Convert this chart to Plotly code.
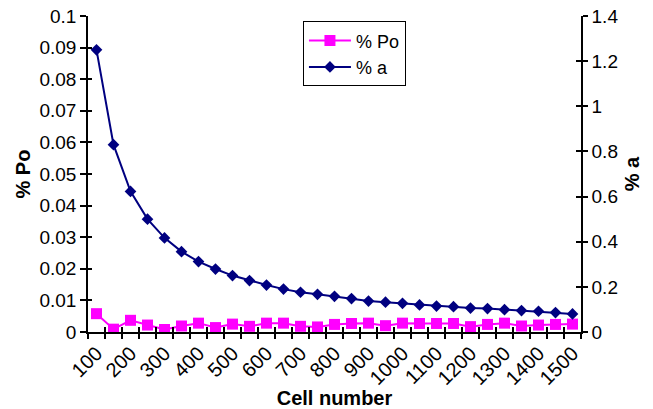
import plotly.graph_objects as go

cells = [100, 150, 200, 250, 300, 350, 400, 450, 500, 550, 600, 650, 700, 750, 800,
         850, 900, 950, 1000, 1050, 1100, 1150, 1200, 1250, 1300, 1350, 1400, 1450, 1500]
pct_po = [0.0058, 0.0009, 0.0037, 0.0022, 0.0008, 0.0019, 0.0028, 0.0014, 0.0025, 0.0018,
          0.0028, 0.0028, 0.0018, 0.0016, 0.0024, 0.0027, 0.0028, 0.0020, 0.0028, 0.0027,
          0.0027, 0.0027, 0.0017, 0.0024, 0.0028, 0.0019, 0.0022, 0.0024, 0.0025]
pct_a = [1.25, 0.83, 0.623, 0.50, 0.417, 0.356, 0.312, 0.279, 0.25, 0.228,
         0.208, 0.19, 0.176, 0.167, 0.158, 0.148, 0.137, 0.132, 0.127, 0.12,
         0.115, 0.112, 0.106, 0.104, 0.099, 0.095, 0.092, 0.086, 0.08]

x_labels = [100, 200, 300, 400, 500, 600, 700, 800, 900, 1000, 1100, 1200, 1300, 1400, 1500]
left_ticks = [0, 0.01, 0.02, 0.03, 0.04, 0.05, 0.06, 0.07, 0.08, 0.09, 0.1]
left_text = ["0", "0.01", "0.02", "0.03", "0.04", "0.05", "0.06", "0.07", "0.08", "0.09", "0.1"]
right_ticks = [0, 0.2, 0.4, 0.6, 0.8, 1.0, 1.2, 1.4]
right_text = ["0", "0.2", "0.4", "0.6", "0.8", "1", "1.2", "1.4"]

FONT = "Liberation Sans, Arial, sans-serif"
XR = [75, 1525]
YR = [0, 0.1]
Y2R = [0, 1.4]

fig = go.Figure()
fig.add_trace(go.Scatter(
    x=cells, y=pct_po, name="% Po", mode="lines+markers",
    line=dict(color="#FF00FF", width=2),
    marker=dict(symbol="square", size=11, color="#FF00FF"),
    xaxis="x", yaxis="y"))
fig.add_trace(go.Scatter(
    x=cells, y=pct_a, name="% a", mode="lines+markers",
    line=dict(color="#000080", width=2),
    marker=dict(symbol="diamond", size=9, color="#000080"),
    xaxis="x", yaxis="y2"))
# invisible helpers so the overlay axes (inside half of the crossing ticks) are drawn
fig.add_trace(go.Scatter(x=cells, y=pct_po, mode="markers", opacity=0, showlegend=False,
                         hoverinfo="skip", xaxis="x2", yaxis="y3"))
fig.add_trace(go.Scatter(x=cells, y=pct_a, mode="markers", opacity=0, showlegend=False,
                         hoverinfo="skip", xaxis="x2", yaxis="y4"))

ytickfont = dict(family=FONT, size=19, color="black")
xtickfont = dict(family=FONT, size=20, color="black")
fig.update_layout(
    width=653, height=409,
    margin=dict(l=88, r=72, t=16, b=77, autoexpand=False),
    paper_bgcolor="white", plot_bgcolor="white",
    font=dict(family=FONT, size=18, color="black"),
    showlegend=True,
    legend=dict(x=0.436, y=0.983, xanchor="left", yanchor="top",
                bordercolor="black", borderwidth=1, bgcolor="white",
                font=dict(family=FONT, size=18), itemwidth=42),
    xaxis=dict(range=XR, showgrid=False, zeroline=False, showline=True, automargin=False,
               linecolor="black", linewidth=1.5, tickmode="array", tickvals=x_labels,
               ticktext=[str(v) for v in x_labels], ticks="", tickangle=-45,
               tickfont=xtickfont,
               minor=dict(tick0=125, dtick=50, ticks="outside", ticklen=5,
                          tickcolor="black", tickwidth=1.5, showgrid=False),
               title=dict(text="<b>Cell number</b>", font=dict(family=FONT, size=20),
                          standoff=4)),
    xaxis2=dict(range=XR, overlaying="x", anchor="y", side="bottom", showgrid=False,
                zeroline=False, showline=False, automargin=False, tick0=125, dtick=50,
                ticks="inside", ticklen=5, tickcolor="black", tickwidth=1.5,
                showticklabels=False),
    yaxis=dict(range=YR, showgrid=False, zeroline=False, showline=True, automargin=True,
               linecolor="black", linewidth=1.5, tickmode="array", tickvals=left_ticks,
               ticktext=left_text, ticks="outside", ticklen=6, tickcolor="black",
               tickwidth=1.5, tickfont=ytickfont,
               title=dict(text="<b>% Po</b>", font=dict(family=FONT, size=20), standoff=3)),
    yaxis2=dict(range=Y2R, overlaying="y", side="right", anchor="x", showgrid=False,
                zeroline=False, showline=True, automargin=True, linecolor="black",
                linewidth=1.5, tickmode="array", tickvals=right_ticks, ticktext=right_text,
                ticks="outside", ticklen=5, tickcolor="black", tickwidth=1.5,
                tickfont=ytickfont,
                title=dict(text="<b>% a</b>", font=dict(family=FONT, size=20), standoff=8)),
    yaxis3=dict(range=YR, overlaying="y", side="left", anchor="x2", showgrid=False,
                zeroline=False, showline=False, automargin=False, tickmode="array",
                tickvals=left_ticks, ticks="inside", ticklen=4, tickcolor="black",
                tickwidth=1.5, showticklabels=False),
    yaxis4=dict(range=Y2R, overlaying="y", side="right", anchor="x2", showgrid=False,
                zeroline=False, showline=False, automargin=False, tickmode="array",
                tickvals=right_ticks, ticks="inside", ticklen=5, tickcolor="black",
                tickwidth=1.5, showticklabels=False),
)

fig.write_html("out.html", config={"displayModeBar": False},
               post_script="document.body.style.margin='0';document.body.style.overflow='hidden';")
